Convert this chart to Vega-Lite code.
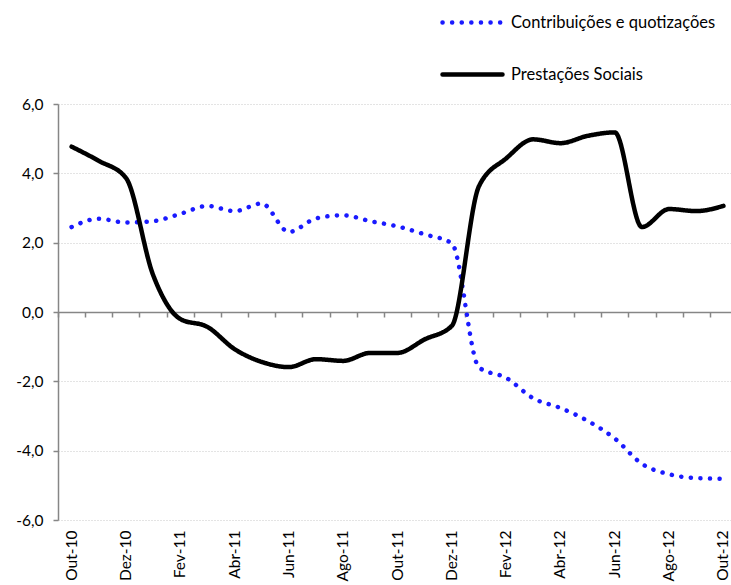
{
  "$schema": "https://vega.github.io/schema/vega-lite/v6.json",
  "width": 679,
  "height": 416,
  "autosize": {"type": "none"},
  "padding": {"left": 58, "top": 104, "right": -6, "bottom": 65},
  "background": "white",
  "config": {
    "view": {"stroke": null},
    "font": "Lato",
    "axis": {"labelFont": "Lato", "labelColor": "#000000", "labelFontSize": 15.5, "title": null}
  },
  "datasets": {
    "rows": [
      {"month": "Out-10", "series": "Contribuições e quotizações", "value": 2.45},
      {"month": "Nov-10", "series": "Contribuições e quotizações", "value": 2.69},
      {"month": "Dez-10", "series": "Contribuições e quotizações", "value": 2.58},
      {"month": "Jan-11", "series": "Contribuições e quotizações", "value": 2.62},
      {"month": "Fev-11", "series": "Contribuições e quotizações", "value": 2.83},
      {"month": "Mar-11", "series": "Contribuições e quotizações", "value": 3.06},
      {"month": "Abr-11", "series": "Contribuições e quotizações", "value": 2.91},
      {"month": "Mai-11", "series": "Contribuições e quotizações", "value": 3.13},
      {"month": "Jun-11", "series": "Contribuições e quotizações", "value": 2.31},
      {"month": "Jul-11", "series": "Contribuições e quotizações", "value": 2.7},
      {"month": "Ago-11", "series": "Contribuições e quotizações", "value": 2.79},
      {"month": "Set-11", "series": "Contribuições e quotizações", "value": 2.62},
      {"month": "Out-11", "series": "Contribuições e quotizações", "value": 2.47},
      {"month": "Nov-11", "series": "Contribuições e quotizações", "value": 2.24},
      {"month": "Dez-11", "series": "Contribuições e quotizações", "value": 1.98},
      {"month": "Jan-12", "series": "Contribuições e quotizações", "value": -1.6},
      {"month": "Fev-12", "series": "Contribuições e quotizações", "value": -1.9},
      {"month": "Mar-12", "series": "Contribuições e quotizações", "value": -2.49},
      {"month": "Abr-12", "series": "Contribuições e quotizações", "value": -2.77},
      {"month": "Mai-12", "series": "Contribuições e quotizações", "value": -3.14},
      {"month": "Jun-12", "series": "Contribuições e quotizações", "value": -3.65},
      {"month": "Jul-12", "series": "Contribuições e quotizações", "value": -4.38},
      {"month": "Ago-12", "series": "Contribuições e quotizações", "value": -4.68},
      {"month": "Set-12", "series": "Contribuições e quotizações", "value": -4.79},
      {"month": "Out-12", "series": "Contribuições e quotizações", "value": -4.81},
      {"month": "Out-10", "series": "Prestações Sociais", "value": 4.77},
      {"month": "Nov-10", "series": "Prestações Sociais", "value": 4.36},
      {"month": "Dez-10", "series": "Prestações Sociais", "value": 3.87},
      {"month": "Jan-11", "series": "Prestações Sociais", "value": 1.07},
      {"month": "Fev-11", "series": "Prestações Sociais", "value": -0.2},
      {"month": "Mar-11", "series": "Prestações Sociais", "value": -0.43},
      {"month": "Abr-11", "series": "Prestações Sociais", "value": -1.07},
      {"month": "Mai-11", "series": "Prestações Sociais", "value": -1.44},
      {"month": "Jun-11", "series": "Prestações Sociais", "value": -1.59},
      {"month": "Jul-11", "series": "Prestações Sociais", "value": -1.36},
      {"month": "Ago-11", "series": "Prestações Sociais", "value": -1.41},
      {"month": "Set-11", "series": "Prestações Sociais", "value": -1.18},
      {"month": "Out-11", "series": "Prestações Sociais", "value": -1.18},
      {"month": "Nov-11", "series": "Prestações Sociais", "value": -0.79},
      {"month": "Dez-11", "series": "Prestações Sociais", "value": -0.4},
      {"month": "Jan-12", "series": "Prestações Sociais", "value": 3.63},
      {"month": "Fev-12", "series": "Prestações Sociais", "value": 4.43},
      {"month": "Mar-12", "series": "Prestações Sociais", "value": 4.98},
      {"month": "Abr-12", "series": "Prestações Sociais", "value": 4.87},
      {"month": "Mai-12", "series": "Prestações Sociais", "value": 5.08},
      {"month": "Jun-12", "series": "Prestações Sociais", "value": 5.18},
      {"month": "Jul-12", "series": "Prestações Sociais", "value": 2.45},
      {"month": "Ago-12", "series": "Prestações Sociais", "value": 2.97},
      {"month": "Set-12", "series": "Prestações Sociais", "value": 2.91},
      {"month": "Out-12", "series": "Prestações Sociais", "value": 3.06}
    ]
  },
  "data": {"name": "rows"},
  "resolve": {"axis": {"x": "independent"}},
  "layer": [
    {
      "mark": {"type": "line", "interpolate": "monotone", "strokeWidth": 4.5, "strokeCap": "round", "strokeJoin": "round"},
      "encoding": {
        "x": {
          "field": "month", "type": "ordinal", "sort": null, "bandPosition": 0.5,
          "scale": {"type": "band", "paddingInner": 0, "paddingOuter": 0},
          "axis": {
            "orient": "bottom", "offset": -208, "labels": false, "grid": false,
            "tickBand": "extent", "ticks": true, "tickSize": 5, "tickColor": "#868686", "tickWidth": 1.5,
            "domain": true, "domainColor": "#868686", "domainWidth": 1.5
          }
        },
        "y": {
          "field": "value", "type": "quantitative",
          "scale": {"domain": [-6, 6], "nice": false, "zero": false},
          "axis": {
            "values": [-6, -4, -2, 0, 2, 4, 6],
            "labelExpr": "replace(replace(format(datum.value, '.1f'), '.', ','), '\u2212', '-')",
            "grid": true, "gridColor": "#c8c8c8", "gridDash": [1, 2], "gridWidth": 1,
            "domain": true, "domainColor": "#868686", "domainWidth": 1.5,
            "ticks": true, "tickSize": 5, "tickColor": "#868686", "tickWidth": 1.5,
            "labelPadding": 10
          }
        },
        "color": {
          "field": "series", "type": "nominal",
          "scale": {"domain": ["Contribuições e quotizações", "Prestações Sociais"], "range": ["#1a1aff", "#000000"]},
          "legend": {
            "orient": "none", "legendX": 382, "legendY": -114, "title": null,
            "direction": "vertical",
            "symbolType": "stroke", "symbolSize": 3600, "symbolStrokeWidth": 4.5,
            "labelFont": "Lato", "labelFontSize": 16.5, "labelColor": "#000000", "labelOffset": 6, "labelLimit": 400,
            "rowPadding": 10,
            "encode": {"symbols": {"update": {"strokeCap": {"value": "round"}}}}
          }
        },
        "strokeDash": {
          "field": "series", "type": "nominal",
          "scale": {"domain": ["Contribuições e quotizações", "Prestações Sociais"], "range": [[0.1, 9.5], [1, 0]]},
          "legend": {
            "orient": "none", "legendX": 382, "legendY": -114, "title": null,
            "direction": "vertical",
            "symbolType": "stroke", "symbolSize": 3600, "symbolStrokeWidth": 4.5,
            "labelFont": "Lato", "labelFontSize": 16.5, "labelColor": "#000000", "labelOffset": 6, "labelLimit": 400,
            "rowPadding": 10,
            "encode": {"symbols": {"update": {"strokeCap": {"value": "round"}}}}
          }
        }
      }
    },
    {
      "mark": {"type": "point", "opacity": 0},
      "encoding": {
        "x": {
          "field": "month", "type": "ordinal", "sort": null, "bandPosition": 0.5,
          "scale": {"type": "band", "paddingInner": 0, "paddingOuter": 0},
          "axis": {
            "orient": "bottom", "offset": 0,
            "values": ["Out-10", "Dez-10", "Fev-11", "Abr-11", "Jun-11", "Ago-11", "Out-11", "Dez-11", "Fev-12", "Abr-12", "Jun-12", "Ago-12", "Out-12"],
            "labelAngle": -90, "labelPadding": 10,
            "domain": false, "ticks": false, "grid": false
          }
        },
        "y": {"field": "value", "type": "quantitative"}
      }
    }
  ]
}
